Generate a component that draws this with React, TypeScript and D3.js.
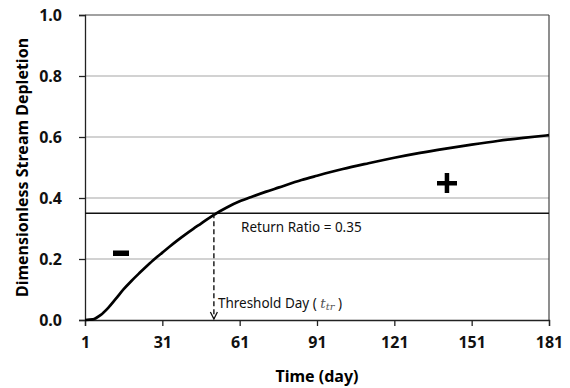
import React, { useRef, useEffect } from "react";
import * as d3 from "d3";

// curve
const days = [1, 4, 7, 10, 13, 16, 19, 22, 25, 28, 31, 34, 37, 40, 43, 46, 51, 56, 61, 66, 71, 76, 85, 91, 101, 111, 121, 131, 141, 151, 161, 171, 181];
const depletion = [0, 0.002, 0.016, 0.04, 0.07, 0.101, 0.128, 0.153, 0.177, 0.2, 0.221, 0.242, 0.262, 0.281, 0.299, 0.316, 0.345, 0.369, 0.389, 0.405, 0.42, 0.434, 0.459, 0.473, 0.495, 0.514, 0.532, 0.548, 0.562, 0.575, 0.587, 0.597, 0.606];
const xTicks = [1, 31, 61, 91, 121, 151, 181];
const yTicks = [0, 0.2, 0.4, 0.6, 0.8, 1.0];
const returnRatio = 0.35;
const thresholdDay = 51;

const W = 570, H = 388;
const m = { left: 85, right: 21, top: 15, bottom: 68 };
const font = "'Noto Sans', 'Open Sans', sans-serif";

function App() {
  const svgRef = useRef(null);

  useEffect(() => {
    const svg = d3.select(svgRef.current);
    svg.selectAll("*").remove();

    const x = d3.scaleLinear().domain([1, 181]).range([m.left, W - m.right]);
    const y = d3.scaleLinear().domain([0, 1]).range([H - m.bottom, m.top]);

    // grid
    svg.append("g")
      .selectAll("line")
      .data(yTicks.filter((d) => d > 0 && d < 1))
      .join("line")
      .attr("x1", x(1)).attr("x2", x(181))
      .attr("y1", (d) => y(d)).attr("y2", (d) => y(d))
      .attr("stroke", "#a6a6a6").attr("stroke-width", 1.2);

    // frame top/right
    svg.append("line").attr("x1", x(1)).attr("x2", x(181)).attr("y1", y(1)).attr("y2", y(1)).attr("stroke", "#444").attr("stroke-width", 1.2);
    svg.append("line").attr("x1", x(181)).attr("x2", x(181)).attr("y1", y(1)).attr("y2", y(0)).attr("stroke", "#444").attr("stroke-width", 1.2);

    const yAxis = svg.append("g")
      .attr("transform", `translate(${m.left},0)`)
      .call(d3.axisLeft(y).tickValues(yTicks).tickFormat(d3.format(".1f")).tickSize(6).tickPadding(17));
    const xAxis = svg.append("g")
      .attr("transform", `translate(0,${H - m.bottom})`)
      .call(d3.axisBottom(x).tickValues(xTicks).tickSize(6).tickPadding(11));

    [xAxis, yAxis].forEach((g) => {
      g.select(".domain").attr("stroke", "#222").attr("stroke-width", 1.3);
      g.selectAll(".tick line").attr("stroke", "#222").attr("stroke-width", 1.3);
      g.selectAll("text")
        .attr("font-family", font).attr("font-size", 16).attr("font-weight", "bold").attr("fill", "#111");
    });

    // return ratio line
    svg.append("line")
      .attr("x1", x(1)).attr("x2", x(181))
      .attr("y1", y(returnRatio)).attr("y2", y(returnRatio))
      .attr("stroke", "#111").attr("stroke-width", 1.5);

    // curve
    const line = d3.line()
      .x((d) => x(d[0]))
      .y((d) => y(d[1]))
      .curve(d3.curveMonotoneX);
    svg.append("path")
      .datum(days.map((d, i) => [d, depletion[i]]))
      .attr("d", line)
      .attr("fill", "none")
      .attr("stroke", "#000")
      .attr("stroke-width", 2.7);

    // threshold dashed arrow
    svg.append("line")
      .attr("x1", x(thresholdDay)).attr("x2", x(thresholdDay))
      .attr("y1", y(returnRatio)).attr("y2", y(0) - 1)
      .attr("stroke", "#111").attr("stroke-width", 1.4)
      .attr("stroke-dasharray", "5,3");
    svg.append("path")
      .attr("d", `M${x(thresholdDay) - 3.5},${y(0) - 8} L${x(thresholdDay)},${y(0) - 1} L${x(thresholdDay) + 3.5},${y(0) - 8}`)
      .attr("fill", "none").attr("stroke", "#111").attr("stroke-width", 1.3);

    // labels
    svg.append("text")
      .attr("x", 241).attr("y", y(returnRatio) + 19)
      .attr("font-family", font).attr("font-size", 13.5).attr("fill", "#111")
      .text("Return Ratio = 0.35");
    const th = svg.append("text")
      .attr("x", x(thresholdDay) + 4).attr("y", y(0) - 12)
      .attr("font-family", font).attr("font-size", 13.5).attr("fill", "#111");
    th.append("tspan").text("Threshold Day ( ");
    th.append("tspan").attr("font-family", "'DejaVu Serif', serif").attr("font-style", "italic").attr("fill", "#555").text("t");
    th.append("tspan").attr("font-family", "'DejaVu Serif', serif").attr("font-style", "italic").attr("fill", "#555").attr("font-size", 10).attr("dy", 2).text("tr");
    th.append("tspan").attr("dy", -2).text(" )");

    // minus and plus
    svg.append("rect").attr("x", 113).attr("y", 250.5).attr("width", 16).attr("height", 5.5).attr("fill", "#000");
    svg.append("rect").attr("x", 437).attr("y", 181).attr("width", 20).attr("height", 4.5).attr("fill", "#000");
    svg.append("rect").attr("x", 444.7).attr("y", 173).attr("width", 4.5).attr("height", 20).attr("fill", "#000");

    svg.append("text")
      .attr("x", (x(1) + x(181)) / 2).attr("y", 382)
      .attr("text-anchor", "middle")
      .attr("font-family", font).attr("font-size", 16).attr("font-weight", "bold")
      .text("Time (day)");
    svg.append("text")
      .attr("transform", `translate(28,${(y(0) + y(1)) / 2}) rotate(-90)`)
      .attr("text-anchor", "middle")
      .attr("font-family", font).attr("font-size", 16).attr("font-weight", "bold")
      .text("Dimensionless Stream Depletion");
  }, []);

  return (
    <svg ref={svgRef} width={W} height={H} style={{ position: "absolute", left: 0, top: 0, background: "#fff" }} />
  );
}

export default App;
